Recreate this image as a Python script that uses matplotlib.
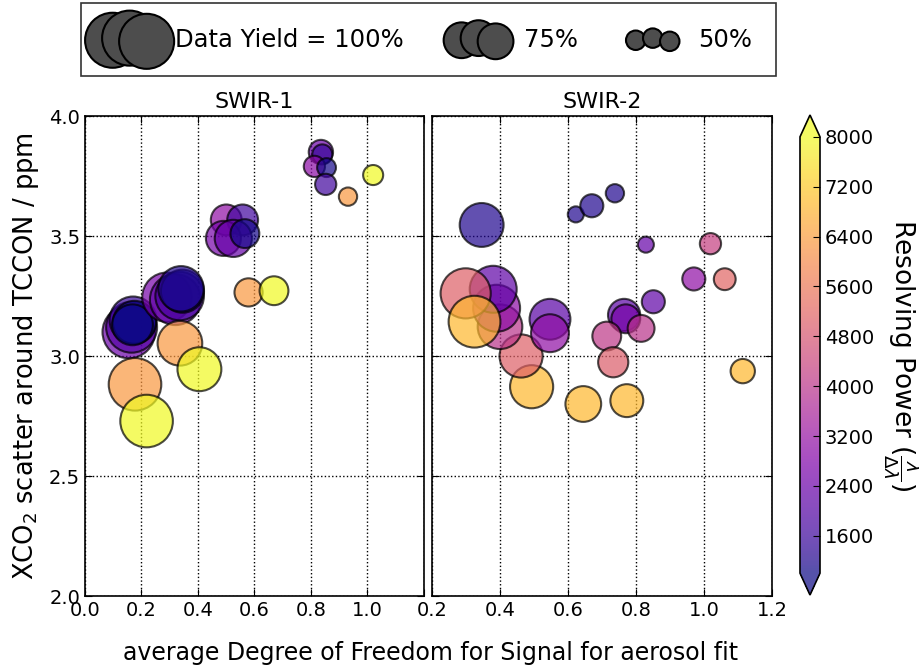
import numpy as np
import matplotlib
matplotlib.use('Agg')
import matplotlib.pyplot as plt
from matplotlib.colors import Normalize

plt.rcParams['font.family'] = ['DejaVu Sans']
plt.rcParams['xtick.direction'] = 'in'
plt.rcParams['ytick.direction'] = 'in'
plt.rcParams['xtick.top'] = True
plt.rcParams['ytick.right'] = True
plt.rcParams['xtick.major.size'] = 5
plt.rcParams['ytick.major.size'] = 5
plt.rcParams['xtick.labelsize'] = 14
plt.rcParams['ytick.labelsize'] = 14
plt.rcParams['axes.linewidth'] = 1.2

# SWIR-1 retrievals: mean aerosol DFS, XCO2 scatter (ppm), resolving power, data yield (%)
swir1_dfs = [0.835, 0.84, 0.812, 0.855, 0.852, 0.931, 1.02,
             0.50, 0.558, 0.49, 0.525, 0.566, 0.579, 0.669,
             0.155, 0.165, 0.17, 0.175, 0.168,
             0.29, 0.32, 0.335, 0.345, 0.34,
             0.336, 0.405, 0.177, 0.218]
swir1_scatter = [3.85, 3.84, 3.79, 3.785, 3.715, 3.664, 3.754,
                 3.567, 3.567, 3.49, 3.49, 3.51, 3.265, 3.272,
                 3.10, 3.12, 3.15, 3.14, 3.13,
                 3.245, 3.235, 3.25, 3.27, 3.28,
                 3.053, 2.945, 2.882, 2.729]
swir1_power = [2400, 1500, 3000, 1100, 1700, 6300, 8000,
               3100, 1700, 2600, 2300, 1100, 6300, 8000,
               2400, 2000, 1500, 1000, 1000,
               2600, 2200, 1800, 1000, 1200,
               6300, 8000, 6300, 8000]
swir1_yield = [58, 51, 53, 49, 53, 48, 51,
               68, 68, 74, 77, 65, 64, 65,
               97, 95, 90, 85, 82,
               93, 95, 92, 85, 88,
               87, 86, 97, 97]

# SWIR-2 retrievals
swir2_dfs = [0.346, 0.623, 0.67, 0.738, 0.829, 1.019, 0.97, 1.061, 0.851,
             0.765, 0.77, 0.815, 0.714, 0.733, 1.114, 0.773, 0.645,
             0.493, 0.462, 0.547, 0.547, 0.40, 0.39, 0.38, 0.299, 0.325]
swir2_scatter = [3.546, 3.59, 3.626, 3.678, 3.464, 3.468, 3.321, 3.32, 3.226,
                 3.171, 3.155, 3.115, 3.083, 2.974, 2.937, 2.814, 2.80,
                 2.872, 3.0, 3.153, 3.095, 3.122, 3.199, 3.278, 3.261, 3.143]
swir2_power = [1200, 1200, 1200, 1200, 2300, 4300, 3100, 5200, 2200,
               2100, 2600, 4000, 4100, 5000, 6900, 6900, 6900,
               6900, 5100, 2100, 3100, 4000, 3000, 2200, 5100, 6900]
swir2_yield = [86, 44, 56, 48, 44, 53, 56, 54, 56,
               70, 65, 62, 65, 67, 58, 71, 75,
               85, 85, 82, 78, 87, 90, 90, 94, 96]

legend_yields = [100, 75, 50]
legend_labels = ['Data Yield = 100%', '75%', '50%']
cbar_ticks = [1600, 2400, 3200, 4000, 4800, 5600, 6400, 7200, 8000]


def marker_size(y):
    return 1570 * (np.asarray(y, dtype=float) / 100.0) ** 3


norm = Normalize(vmin=1000, vmax=8000)

fig = plt.figure(figsize=(9.2, 6.67), dpi=100)
ax1 = fig.add_axes([85 / 920, 1 - 596 / 667, 339 / 920, 480 / 667])
ax2 = fig.add_axes([432 / 920, 1 - 596 / 667, 340 / 920, 480 / 667])
cax = fig.add_axes([800 / 920, 1 - 595 / 667, 20 / 920, 480 / 667])

sc = ax1.scatter(swir1_dfs, swir1_scatter, s=marker_size(swir1_yield), c=swir1_power,
                 cmap='plasma', norm=norm, alpha=0.7, edgecolors='k', linewidths=1.5)
ax2.scatter(swir2_dfs, swir2_scatter, s=marker_size(swir2_yield), c=swir2_power,
            cmap='plasma', norm=norm, alpha=0.7, edgecolors='k', linewidths=1.5)

ax1.set_xlim(0.0, 1.2)
ax1.set_xticks([0.0, 0.2, 0.4, 0.6, 0.8, 1.0, 1.2])
ax1.set_xticklabels(['0.0', '0.2', '0.4', '0.6', '0.8', '1.0', ''])
ax2.set_xlim(0.2, 1.2)
ax2.set_xticks([0.2, 0.4, 0.6, 0.8, 1.0, 1.2])
for ax in (ax1, ax2):
    ax.set_ylim(2.0, 4.0)
    ax.set_yticks([2.0, 2.5, 3.0, 3.5, 4.0])
    ax.grid(True, color='k', linestyle=':', linewidth=1)
    ax.set_axisbelow(True)
ax2.set_yticklabels([])

ax1.set_title('SWIR-1', fontsize=16, pad=6)
ax2.set_title('SWIR-2', fontsize=16, pad=6)
ax1.set_ylabel(r'XCO$_2$ scatter around TCCON / ppm', fontsize=18.5, labelpad=6)
fig.text(431 / 920, 1 - 653 / 667, 'average Degree of Freedom for Signal for aerosol fit',
         ha='center', va='center', fontsize=17)

cb = fig.colorbar(sc, cax=cax, extend='both', ticks=cbar_ticks)
cb.ax.tick_params(labelsize=14, direction='in', length=5)
cb.set_label(r'Resolving Power ($\frac{\lambda}{\Delta\lambda}$)', rotation=270,
             fontsize=19, labelpad=34)

# size key drawn with empty scatters
handles = [ax1.scatter([], [], s=marker_size(y), c='0.3', edgecolors='k', linewidths=1.5)
           for y in legend_yields]
leg = fig.legend(handles, legend_labels, loc='upper left',
                 bbox_to_anchor=(81 / 920, 1 - 10 / 667, 695 / 920, 0.01),
                 mode='expand', ncol=3, scatterpoints=3, fontsize=17.5,
                 fancybox=False, borderpad=1.0, handletextpad=0.85, borderaxespad=0)
leg.get_frame().set_edgecolor('k')
leg.get_frame().set_linewidth(1.2)

fig.savefig('out.png', dpi=100)
